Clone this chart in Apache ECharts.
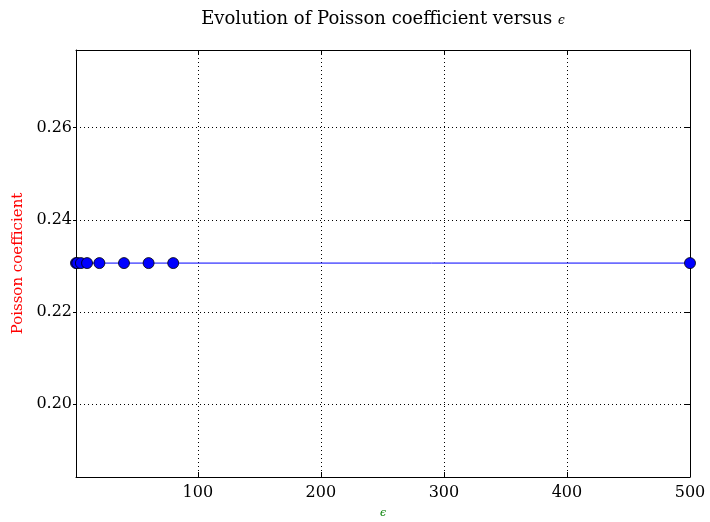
<!DOCTYPE html>
<html>
<head>
<meta charset="utf-8">
<script src="https://cdn.jsdelivr.net/npm/echarts@6/dist/echarts.min.js"></script>
<style>html,body{margin:0;padding:0;background:#fff;}#c{width:710px;height:522px;}</style>
</head>
<body>
<div id="c"></div>
<script>
const epsValues = [1, 2, 5, 10, 20, 40, 60, 80, 500];
const poissonValues = [0.2306, 0.2306, 0.2306, 0.2306, 0.2306, 0.2306, 0.2306, 0.2306, 0.2306];
const xTicks = [100, 200, 300, 400, 500];
const yTicks = [0.20, 0.22, 0.24, 0.26];
const xRange = [1, 500];
const yRange = [0.18415, 0.27687];

const font = 'DejaVu Serif';
const chart = echarts.init(document.getElementById('c'), null, {renderer: 'canvas'});
function tick(inside, len) {
  return {show: true, inside: inside, length: len, lineStyle: {color: '#000', width: 1}};
}
function xAx(pos, showLabel) {
  return {
    type: 'value', position: pos, min: xRange[0], max: xRange[1],
    axisLine: {show: true, onZero: false, lineStyle: {color: '#000', width: 1}},
    axisTick: Object.assign({customValues: xTicks}, tick(true, 5)),
    axisLabel: {show: showLabel, customValues: xTicks, color: '#000', fontFamily: font, fontSize: 16, margin: 8},
    splitLine: {show: showLabel, lineStyle: {color: '#000', type: [1, 3], width: 1}}
  };
}
function yAx(pos, showLabel) {
  return {
    type: 'value', position: pos, min: yRange[0], max: yRange[1],
    axisLine: {show: true, onZero: false, lineStyle: {color: '#000', width: 1}},
    axisTick: Object.assign({customValues: yTicks}, showLabel ? tick(false, 3) : tick(true, 5)),
    axisLabel: {show: showLabel, customValues: yTicks, color: '#000', fontFamily: font, fontSize: 16, margin: 4,
      formatter: v => v.toFixed(2)},
    splitLine: {show: showLabel, lineStyle: {color: '#000', type: [1, 3], width: 1}}
  };
}
chart.setOption({
  backgroundColor: '#fff',
  animation: false,
  title: {
    text: 'Evolution of Poisson coefficient versus {e|\u03f5}',
    left: 378, top: 5, textAlign: 'center',
    textStyle: {fontFamily: font, fontSize: 18, fontWeight: 'normal', color: '#000',
      rich: {e: {fontFamily: font, fontSize: 12, fontStyle: 'italic', color: '#000', padding: [4, 0, 0, 0]}}}
  },
  grid: {left: 76, right: 20, top: 50, bottom: 45, containLabel: false, outerBoundsMode: 'none'},
  xAxis: [
    Object.assign(xAx('bottom', true), {name: '\u03f5', nameLocation: 'middle', nameGap: 31,
      nameTextStyle: {color: 'green', fontFamily: font, fontSize: 11, fontStyle: 'italic'}}),
    xAx('top', false)
  ],
  yAxis: [
    Object.assign(yAx('left', true), {name: 'Poisson coefficient', nameLocation: 'middle', nameGap: 49,
      nameTextStyle: {color: 'red', fontFamily: font, fontSize: 15}}),
    yAx('right', false)
  ],
  series: [{
    type: 'line',
    data: epsValues.map((x, i) => [x, poissonValues[i]]),
    symbol: 'circle', symbolSize: 11,
    lineStyle: {color: '#0000ff', width: 1},
    itemStyle: {color: '#0000ff', borderColor: '#000', borderWidth: 0.8},
    clip: true
  }]
});
</script>
</body>
</html>
